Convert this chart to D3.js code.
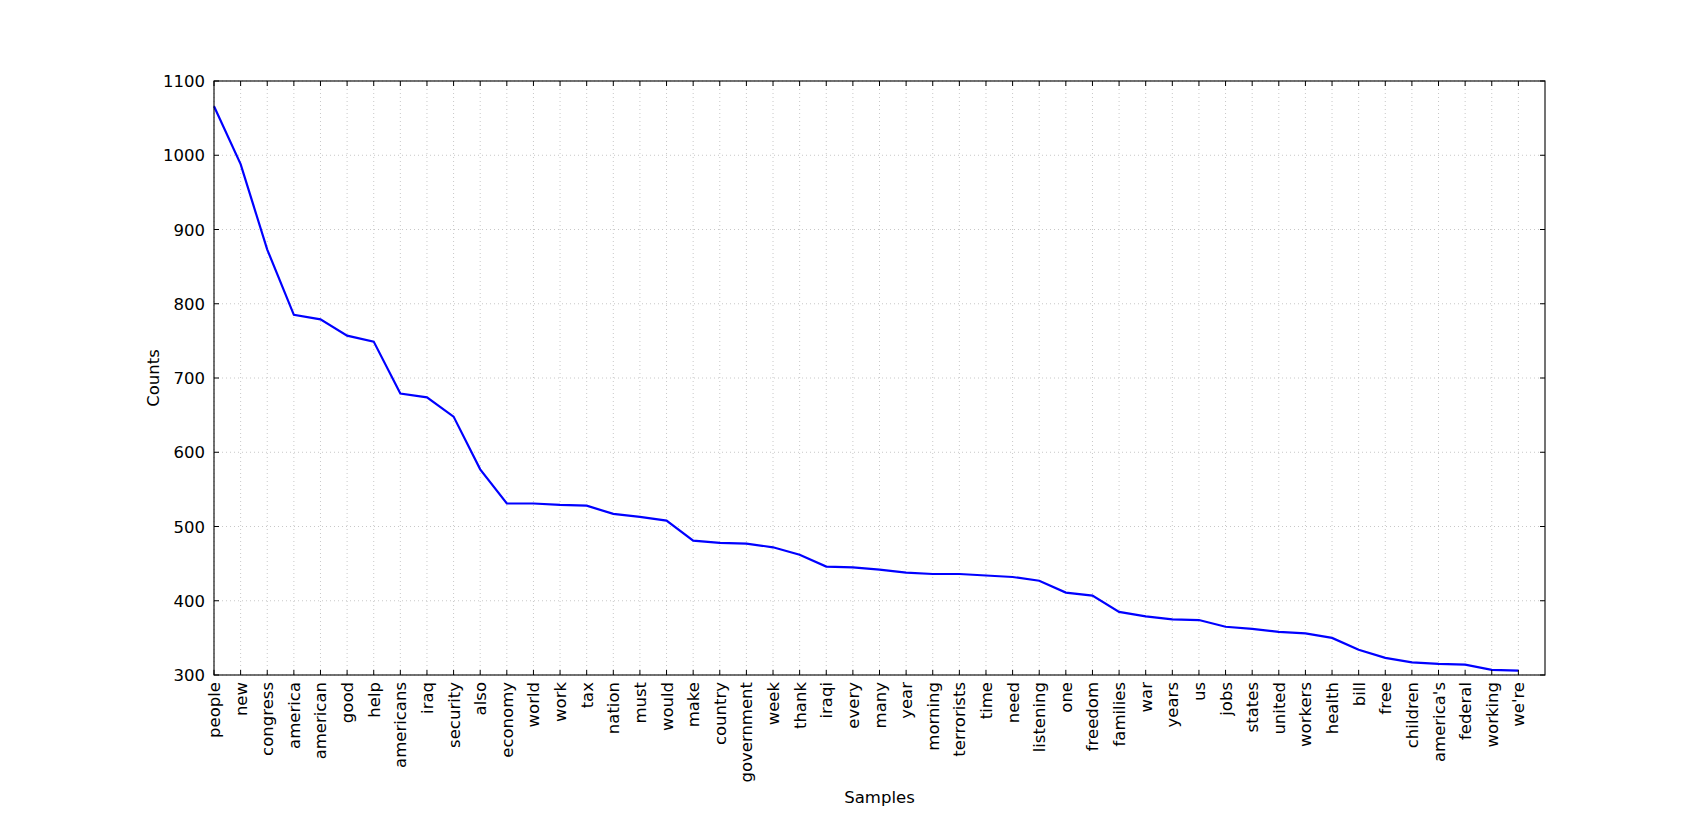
<!DOCTYPE html>
<html><head><meta charset="utf-8">
<script src="https://cdn.jsdelivr.net/npm/d3@7"></script>
<style>body{margin:0;background:#fff;} text{font-family:"DejaVu Sans",sans-serif;}</style>
</head><body><svg id="chart" width="1707" height="813"></svg>
<script>
// word frequency plot
const words = ["people","new","congress","america","american","good","help","americans","iraq","security","also","economy","world","work","tax","nation","must","would","make","country","government","week","thank","iraqi","every","many","year","morning","terrorists","time","need","listening","one","freedom","families","war","years","us","jobs","states","united","workers","health","bill","free","children","america's","federal","working","we're"];
const counts = [1066,988,873,785,779,757,749,679,674,648,577,531,531,529,528,517,513,508,481,478,477,472,462,446,445,442,438,436,436,434,432,427,411,407,385,379,375,374,365,362,358,356,350,334,323,317,315,314,307,306];
const yTicks = [300,400,500,600,700,800,900,1000,1100];

const svg = d3.select("#chart");
const m = {left:214, right:1545, top:81, bottom:675};
const x = d3.scaleLinear().domain([0, words.length]).range([m.left, m.right]);
const y = d3.scaleLinear().domain([300, 1100]).range([m.bottom, m.top]);

const grid = svg.append("g").attr("stroke", "#c8c8c8").attr("stroke-dasharray", "1,3").attr("stroke-width", 1);
words.forEach((w, i) => {
  grid.append("line").attr("x1", x(i)).attr("x2", x(i)).attr("y1", m.top).attr("y2", m.bottom);
});
yTicks.forEach(t => {
  grid.append("line").attr("x1", m.left).attr("x2", m.right).attr("y1", y(t)).attr("y2", y(t));
});

const line = d3.line().x((d, i) => x(i)).y(d => y(d));
svg.append("path").datum(counts).attr("d", line).attr("fill", "none").attr("stroke", "#0000ff").attr("stroke-width", 2.2);

svg.append("rect").attr("x", m.left).attr("y", m.top).attr("width", m.right - m.left).attr("height", m.bottom - m.top)
  .attr("fill", "none").attr("stroke", "#000").attr("stroke-width", 1.1);

// ticks
words.forEach((w, i) => {
  svg.append("line").attr("x1", x(i)).attr("x2", x(i)).attr("y1", m.bottom).attr("y2", m.bottom - 5).attr("stroke", "#000");
  svg.append("line").attr("x1", x(i)).attr("x2", x(i)).attr("y1", m.top).attr("y2", m.top + 5).attr("stroke", "#000");
  svg.append("text").attr("transform", `translate(${x(i) + 6},${m.bottom + 7}) rotate(-90)`)
    .attr("text-anchor", "end").attr("font-size", 16.5).text(w);
});
yTicks.forEach(t => {
  svg.append("line").attr("x1", m.left).attr("x2", m.left + 5).attr("y1", y(t)).attr("y2", y(t)).attr("stroke", "#000");
  svg.append("line").attr("x1", m.right).attr("x2", m.right - 5).attr("y1", y(t)).attr("y2", y(t)).attr("stroke", "#000");
  svg.append("text").attr("x", m.left - 9).attr("y", y(t) + 6).attr("text-anchor", "end").attr("font-size", 16.5).text(t);
});

svg.append("text").attr("x", (m.left + m.right) / 2).attr("y", 803).attr("text-anchor", "middle").attr("font-size", 16.5).text("Samples");
svg.append("text").attr("transform", `translate(159,${(m.top + m.bottom) / 2}) rotate(-90)`).attr("text-anchor", "middle").attr("font-size", 16.5).text("Counts");
</script></body></html>
